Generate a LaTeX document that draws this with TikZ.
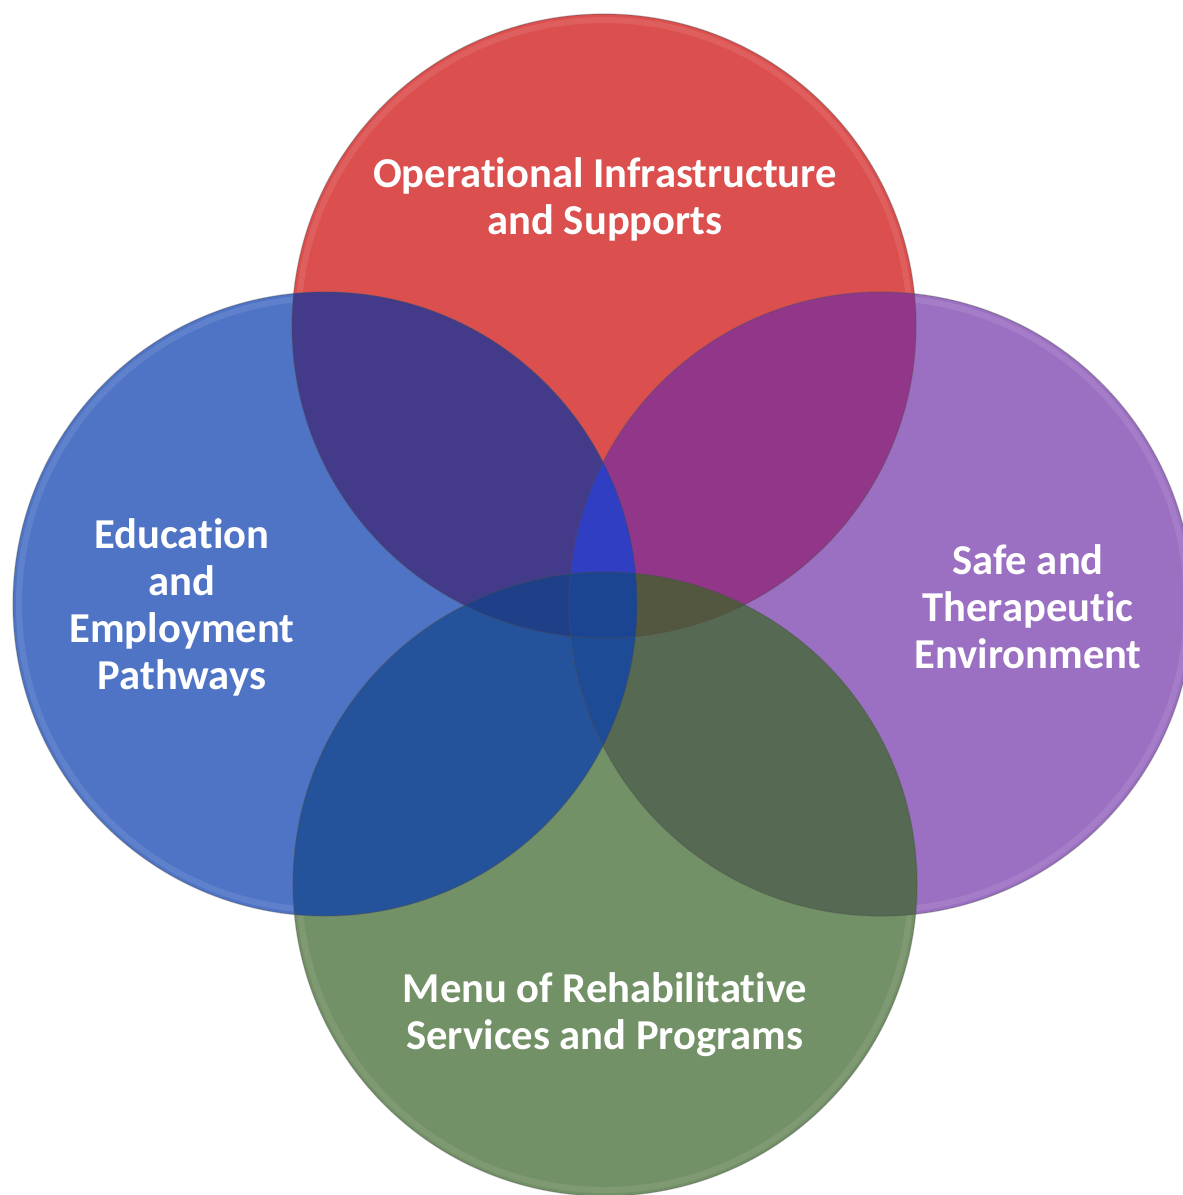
\documentclass[tikz,border=0pt]{standalone}
\usepackage{fontspec}
\setmainfont{Carlito}[Ligatures=NoCommon]
\definecolor{cR}{HTML}{DB4F4E}
\definecolor{cB}{HTML}{4F74C6}
\definecolor{cP}{HTML}{9B70C2}
\definecolor{cG}{HTML}{739166}
\definecolor{cRB}{HTML}{433B8A}
\definecolor{cRP}{HTML}{92368A}
\definecolor{cBG}{HTML}{24539B}
\definecolor{cPG}{HTML}{566953}
\definecolor{cRG}{HTML}{3A4A70}
\definecolor{cBP}{HTML}{2A45B0}
\definecolor{cRBP}{HTML}{2F3EC2}
\definecolor{cRBG}{HTML}{1F3F88}
\definecolor{cRPG}{HTML}{545740}
\definecolor{cBPG}{HTML}{1E4B96}
\definecolor{cAll}{HTML}{1B4593}
\begin{document}
\begin{tikzpicture}[x=0.5pt,y=-0.5pt,
  lbl/.style={text=white,font=\fontsize{21.3}{23.5}\selectfont\bfseries,align=center,inner sep=0pt},
  rim/.style={line width=3pt,opacity=0.3},
  edge/.style={draw=black!70,line width=0.6pt,draw opacity=0.35}]
\def\rr{312}
\fill[white] (0,0) rectangle (1183,1195);
\useasboundingbox (0,0) rectangle (1183,1195);
\coordinate (R) at (604,326);
\coordinate (B) at (325,604);
\coordinate (P) at (881,604);
\coordinate (G) at (605,884);
% base discs
\fill[cR] (R) circle[radius=\rr];
\fill[cB] (B) circle[radius=\rr];
\fill[cP] (P) circle[radius=\rr];
\fill[cG] (G) circle[radius=\rr];
% glassy rims
\draw[rim,cR!70!white] (R) circle[radius=306];
\draw[rim,cB!70!white] (B) circle[radius=306];
\draw[rim,cP!70!white] (P) circle[radius=306];
\draw[rim,cG!70!white] (G) circle[radius=306];
% pair overlaps
\begin{scope}\clip (R) circle[radius=\rr];\fill[cRB] (B) circle[radius=\rr];\end{scope}
\begin{scope}\clip (R) circle[radius=\rr];\fill[cRP] (P) circle[radius=\rr];\end{scope}
\begin{scope}\clip (R) circle[radius=\rr];\fill[cRG] (G) circle[radius=\rr];\end{scope}
\begin{scope}\clip (B) circle[radius=\rr];\fill[cBG] (G) circle[radius=\rr];\end{scope}
\begin{scope}\clip (B) circle[radius=\rr];\fill[cBP] (P) circle[radius=\rr];\end{scope}
\begin{scope}\clip (P) circle[radius=\rr];\fill[cPG] (G) circle[radius=\rr];\end{scope}
% triple overlaps
\begin{scope}\clip (R) circle[radius=\rr];\clip (B) circle[radius=\rr];\fill[cRBP] (P) circle[radius=\rr];\end{scope}
\begin{scope}\clip (R) circle[radius=\rr];\clip (B) circle[radius=\rr];\fill[cRBG] (G) circle[radius=\rr];\end{scope}
\begin{scope}\clip (R) circle[radius=\rr];\clip (P) circle[radius=\rr];\fill[cRPG] (G) circle[radius=\rr];\end{scope}
\begin{scope}\clip (B) circle[radius=\rr];\clip (P) circle[radius=\rr];\fill[cBPG] (G) circle[radius=\rr];\end{scope}
% all four
\begin{scope}\clip (R) circle[radius=\rr];\clip (B) circle[radius=\rr];\clip (P) circle[radius=\rr];\fill[cAll] (G) circle[radius=\rr];\end{scope}
% outlines
\path[edge] (R) circle[radius=\rr];
\path[edge] (B) circle[radius=\rr];
\path[edge] (P) circle[radius=\rr];
\path[edge] (G) circle[radius=\rr];
% labels
\node[lbl] (tOps) at (605,199) {Operational Infrastructure\\and Supports};
\node[lbl] (tEdu) at (182,607) {Education\\and\\Employment\\Pathways};
\node[lbl] (tSafe) at (1028,607) {Safe and\\Therapeutic\\Environment};
\node[lbl] (tMenu) at (605,1015) {Menu of Rehabilitative\\Services and Programs};
\end{tikzpicture}
\end{document}
